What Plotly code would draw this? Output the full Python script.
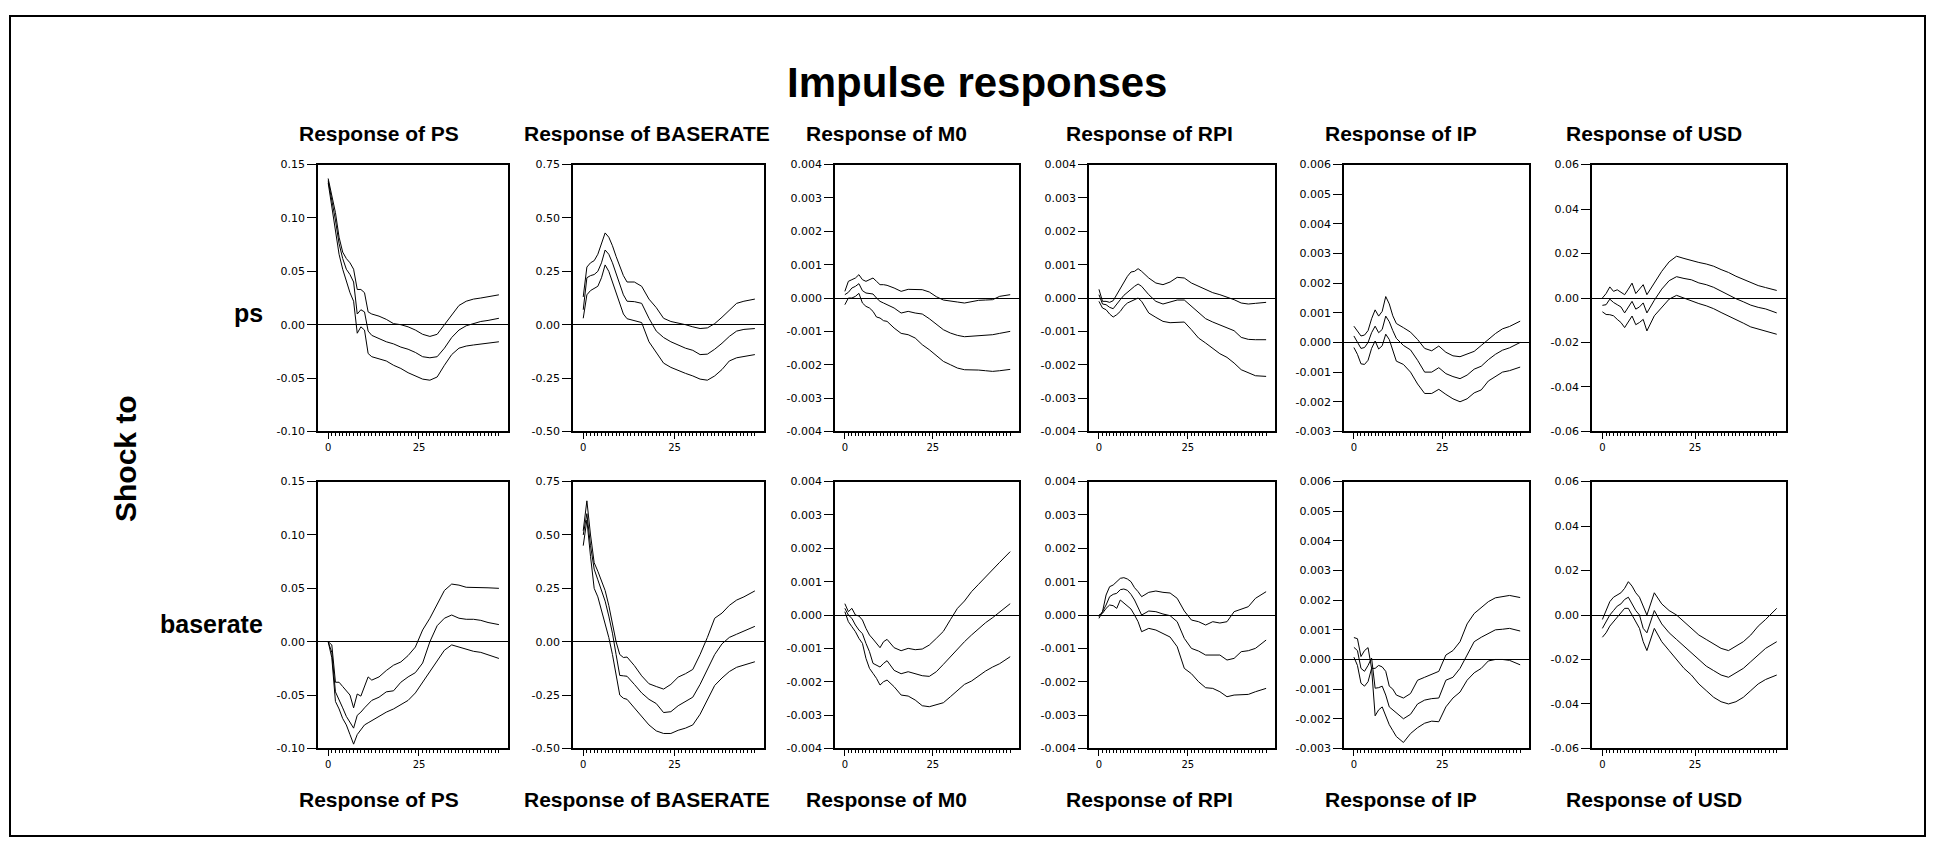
import plotly.graph_objects as go

# ---------------- data ----------------
H = [0, 1, 2, 3, 4, 5, 6, 7, 8, 9, 10, 11, 12, 14, 16, 18, 20, 22, 24, 26, 28, 30, 32, 34, 36, 38, 40, 42, 44, 47]

COLUMNS = ["PS", "BASERATE", "M0", "RPI", "IP", "USD"]
ROWS = ["ps", "baserate"]
TITLE = "Impulse responses"
SHOCK_LABEL = "Shock to"
X_TICKS = [0, 25]
X_MINOR = list(range(0, 48))

Y_TICKS_PS = [-0.10, -0.05, 0.00, 0.05, 0.10, 0.15]
Y_TICKS_BASERATE = [-0.50, -0.25, 0.00, 0.25, 0.50, 0.75]
Y_TICKS_M0 = [-0.004, -0.003, -0.002, -0.001, 0.000, 0.001, 0.002, 0.003, 0.004]
Y_TICKS_RPI = [-0.004, -0.003, -0.002, -0.001, 0.000, 0.001, 0.002, 0.003, 0.004]
Y_TICKS_IP = [-0.003, -0.002, -0.001, 0.000, 0.001, 0.002, 0.003, 0.004, 0.005, 0.006]
Y_TICKS_USD = [-0.06, -0.04, -0.02, 0.00, 0.02, 0.04, 0.06]
Y_DECIMALS = [2, 2, 3, 3, 3, 2]

# shock ps
ps_PS_hi = [0.137, 0.122, 0.105, 0.082, 0.068, 0.062, 0.058, 0.052, 0.033, 0.033, 0.030, 0.012, 0.010, 0.008, 0.005, 0.001, 0.000, -0.002, -0.005, -0.009, -0.011, -0.009, 0.000, 0.010, 0.018, 0.022, 0.024, 0.025, 0.026, 0.028]
ps_PS_mid = [0.135, 0.118, 0.098, 0.076, 0.062, 0.052, 0.047, 0.040, 0.010, 0.014, 0.012, -0.006, -0.010, -0.013, -0.016, -0.018, -0.021, -0.023, -0.026, -0.030, -0.031, -0.030, -0.022, -0.012, -0.005, -0.001, 0.001, 0.003, 0.004, 0.006]
ps_PS_lo = [0.133, 0.112, 0.090, 0.066, 0.052, 0.040, 0.030, 0.022, -0.008, -0.002, -0.005, -0.027, -0.030, -0.032, -0.034, -0.038, -0.041, -0.045, -0.048, -0.051, -0.052, -0.049, -0.038, -0.028, -0.022, -0.020, -0.019, -0.018, -0.017, -0.016]

ps_BASERATE_hi = [0.13, 0.27, 0.29, 0.30, 0.33, 0.38, 0.43, 0.41, 0.37, 0.32, 0.27, 0.23, 0.20, 0.20, 0.18, 0.12, 0.08, 0.03, 0.015, 0.008, 0.0, -0.01, -0.018, -0.015, 0.005, 0.035, 0.07, 0.10, 0.11, 0.12]
ps_BASERATE_mid = [0.07, 0.22, 0.23, 0.235, 0.25, 0.29, 0.35, 0.33, 0.29, 0.24, 0.19, 0.14, 0.11, 0.108, 0.10, 0.03, -0.03, -0.06, -0.08, -0.095, -0.11, -0.12, -0.14, -0.138, -0.115, -0.087, -0.055, -0.03, -0.022, -0.018]
ps_BASERATE_lo = [0.03, 0.14, 0.16, 0.17, 0.18, 0.22, 0.28, 0.25, 0.20, 0.14, 0.09, 0.05, 0.028, 0.02, 0.01, -0.08, -0.13, -0.18, -0.20, -0.215, -0.228, -0.24, -0.255, -0.26, -0.24, -0.21, -0.17, -0.155, -0.15, -0.14]

ps_M0_hi = [0.0002, 0.0005, 0.00055, 0.0006, 0.0007, 0.00055, 0.0005, 0.00056, 0.0006, 0.0005, 0.0004, 0.0004, 0.00038, 0.0003, 0.0002, 0.00026, 0.00026, 0.00025, 0.00018, 0.00004, -0.00006, -0.0001, -0.00012, -0.00015, -0.0001, -0.00007, -0.00006, -0.00005, 0.00005, 0.0001]
ps_M0_mid = [0.0001, 0.00017, 0.0003, 0.00035, 0.00043, 0.00022, 0.00015, 0.00014, 0.00012, 0.0, -0.0001, -0.00015, -0.0002, -0.0003, -0.00045, -0.0004, -0.00045, -0.00048, -0.00062, -0.00078, -0.00095, -0.00105, -0.00112, -0.00116, -0.00115, -0.00114, -0.00112, -0.0011, -0.00106, -0.001]
ps_M0_lo = [-0.0002, 0.0, 0.0, 0.00005, 0.00014, -0.00015, -0.00025, -0.0003, -0.0004, -0.00057, -0.0006, -0.00068, -0.0007, -0.0009, -0.00106, -0.0011, -0.0012, -0.0014, -0.00155, -0.00172, -0.0019, -0.002, -0.0021, -0.00215, -0.00215, -0.00216, -0.00218, -0.0022, -0.00218, -0.00214]

ps_RPI_hi = [0.00026, -0.0001, -0.0001, -0.00013, -0.00008, 0.0001, 0.0003, 0.00045, 0.00065, 0.00078, 0.0008, 0.00088, 0.0008, 0.0006, 0.00045, 0.0004, 0.00048, 0.00062, 0.0006, 0.00045, 0.00035, 0.00024, 0.00016, 0.0001, 0.00003, -0.00005, -0.00015, -0.00018, -0.00016, -0.00013]
ps_RPI_mid = [0.0001, -0.00018, -0.0002, -0.00028, -0.00032, -0.0002, -0.00005, 0.00008, 0.00018, 0.00025, 0.00035, 0.00042, 0.00035, 0.0001, -0.0001, -0.00018, -0.00012, -0.00006, -0.00006, -0.00025, -0.00046, -0.00062, -0.00072, -0.0008, -0.00088, -0.00098, -0.00118, -0.00124, -0.00125, -0.00125]
ps_RPI_lo = [-0.0001, -0.0003, -0.00035, -0.00048, -0.00057, -0.0005, -0.0004, -0.00025, -0.00015, -0.0001, -0.00006, 0.0, -0.0001, -0.00045, -0.00058, -0.0007, -0.00074, -0.00072, -0.00072, -0.00095, -0.0012, -0.00135, -0.0015, -0.00167, -0.00178, -0.00195, -0.00215, -0.00224, -0.00233, -0.00235]

ps_IP_hi = [0.00055, 0.0004, 0.00022, 0.00025, 0.0004, 0.0008, 0.0011, 0.00089, 0.00105, 0.00155, 0.0013, 0.0009, 0.00064, 0.0005, 0.00035, 0.0001, -0.0002, -0.00028, -0.00012, -0.00033, -0.00045, -0.00048, -0.00038, -0.0003, -0.0001, 0.0001, 0.0003, 0.00046, 0.00054, 0.00072]
ps_IP_mid = [0.00022, 0.0, -0.0002, -0.00017, 0.0, 0.00033, 0.00055, 0.00033, 0.00044, 0.00089, 0.0007, 0.0004, 0.00014, -0.0001, -0.00025, -0.0006, -0.001, -0.001, -0.00085, -0.00105, -0.00115, -0.00122, -0.0011, -0.0009, -0.0008, -0.00058, -0.0004, -0.00026, -0.00018, 0.0]
ps_IP_lo = [-0.00017, -0.0004, -0.00072, -0.00074, -0.0006, -0.0002, 0.00005, -0.00022, -0.00011, 0.00028, 0.0001, -0.0003, -0.00063, -0.00074, -0.001, -0.0014, -0.00172, -0.00172, -0.00158, -0.00175, -0.0019, -0.002, -0.0019, -0.0017, -0.0016, -0.0013, -0.00115, -0.001, -0.00095, -0.00083]

ps_USD_hi = [0.0, 0.002, 0.005, 0.003, 0.0037, 0.0025, 0.0015, 0.004, 0.0067, 0.002, 0.004, 0.006, 0.0015, 0.007, 0.012, 0.0163, 0.0188, 0.0178, 0.0168, 0.016, 0.0153, 0.0143, 0.0128, 0.0115, 0.0098, 0.0083, 0.007, 0.0056, 0.0047, 0.0034]
ps_USD_mid = [-0.0033, -0.003, -0.0005, -0.002, -0.003, -0.004, -0.0067, -0.004, -0.0015, -0.005, -0.004, -0.0022, -0.0067, -0.001, 0.004, 0.0078, 0.0096, 0.0088, 0.0082, 0.0068, 0.006, 0.0048, 0.003, 0.0013, -0.0003, -0.0017, -0.0032, -0.0042, -0.0049, -0.0067]
ps_USD_lo = [-0.0062, -0.0074, -0.0075, -0.008, -0.0096, -0.011, -0.0133, -0.0105, -0.0081, -0.012, -0.011, -0.0096, -0.0148, -0.008, -0.004, -0.0005, 0.0012, 0.0, -0.0015, -0.0025, -0.0035, -0.0048, -0.0065, -0.008, -0.0098, -0.0113, -0.013, -0.014, -0.0148, -0.0163]

# shock baserate
br_PS_hi = [0.0, -0.003, -0.038, -0.038, -0.042, -0.046, -0.05, -0.062, -0.049, -0.051, -0.042, -0.033, -0.036, -0.033, -0.027, -0.022, -0.019, -0.013, -0.005, 0.011, 0.022, 0.035, 0.048, 0.054, 0.053, 0.051, 0.051, 0.051, 0.0505, 0.05]
br_PS_mid = [0.0, -0.01, -0.047, -0.054, -0.062, -0.07, -0.075, -0.081, -0.069, -0.066, -0.062, -0.058, -0.055, -0.052, -0.047, -0.046, -0.038, -0.033, -0.029, -0.02, 0.0, 0.015, 0.022, 0.025, 0.022, 0.021, 0.021, 0.02, 0.018, 0.016]
br_PS_lo = [0.0, -0.015, -0.056, -0.063, -0.072, -0.078, -0.087, -0.096, -0.087, -0.082, -0.078, -0.076, -0.074, -0.07, -0.066, -0.063, -0.059, -0.055, -0.048, -0.038, -0.028, -0.018, -0.008, -0.003, -0.005, -0.007, -0.009, -0.01, -0.012, -0.0157]

br_BASERATE_hi = [0.52, 0.66, 0.5, 0.37, 0.33, 0.28, 0.24, 0.17, 0.09, 0.0, -0.06, -0.074, -0.072, -0.112, -0.16, -0.197, -0.21, -0.222, -0.2, -0.166, -0.15, -0.13, -0.06, 0.02, 0.11, 0.134, 0.17, 0.195, 0.21, 0.238]
br_BASERATE_mid = [0.5, 0.6, 0.45, 0.34, 0.29, 0.24, 0.19, 0.12, 0.04, -0.06, -0.158, -0.16, -0.162, -0.2, -0.24, -0.27, -0.29, -0.332, -0.328, -0.3, -0.28, -0.26, -0.2, -0.13, -0.06, -0.01, 0.02, 0.035, 0.05, 0.072]
br_BASERATE_lo = [0.45, 0.57, 0.4, 0.25, 0.21, 0.15, 0.09, 0.02, -0.06, -0.16, -0.25, -0.265, -0.27, -0.31, -0.35, -0.39, -0.418, -0.43, -0.43, -0.415, -0.405, -0.39, -0.34, -0.27, -0.205, -0.17, -0.14, -0.12, -0.11, -0.094]

br_M0_hi = [0.00034, 0.0001, 0.0002, 0.0, -0.00003, -0.00015, -0.0004, -0.0006, -0.00072, -0.00085, -0.00098, -0.0008, -0.00073, -0.00098, -0.00107, -0.001, -0.00104, -0.00102, -0.0009, -0.0007, -0.00049, -0.00014, 0.0002, 0.00042, 0.0007, 0.00092, 0.00113, 0.00134, 0.00158, 0.0019]
br_M0_mid = [0.0002, 0.0, -0.0001, -0.0003, -0.00045, -0.00056, -0.00085, -0.0011, -0.00145, -0.0015, -0.00156, -0.00145, -0.00137, -0.00166, -0.00176, -0.0017, -0.00176, -0.00182, -0.00184, -0.0017, -0.00148, -0.00125, -0.001, -0.0008, -0.0006, -0.0004, -0.00023, -0.00008, 0.00008, 0.00034]
br_M0_lo = [0.0001, -0.0002, -0.00035, -0.0005, -0.0007, -0.00085, -0.0013, -0.0016, -0.00175, -0.0019, -0.0021, -0.002, -0.00195, -0.00215, -0.0024, -0.00243, -0.00255, -0.00272, -0.00275, -0.00268, -0.00263, -0.00245, -0.00225, -0.00208, -0.00198, -0.00182, -0.00168, -0.00156, -0.00146, -0.00125]

br_RPI_hi = [-0.0001, 0.0001, 0.0006, 0.00085, 0.0009, 0.001, 0.0011, 0.00112, 0.00108, 0.001, 0.00082, 0.0007, 0.00055, 0.00068, 0.00072, 0.00068, 0.00066, 0.0005, 0.00012, -0.00015, -0.0002, -0.0003, -0.0002, -0.00024, -0.0002, 0.0001, 0.00018, 0.00025, 0.0005, 0.0007]
br_RPI_mid = [-0.00005, 0.0001, 0.0003, 0.00055, 0.00062, 0.00065, 0.00076, 0.00078, 0.00074, 0.00062, 0.00045, 0.0002, 0.0, 0.00012, 0.0001, 0.00003, -0.00002, -0.0002, -0.0007, -0.001, -0.00108, -0.0012, -0.0012, -0.0012, -0.00135, -0.0013, -0.0011, -0.00107, -0.001, -0.00075]
br_RPI_lo = [0.0, 0.00005, 0.0002, 0.0003, 0.00028, 0.0002, 0.00045, 0.00035, 0.00025, 0.00018, 0.0, -0.0002, -0.0005, -0.0004, -0.00045, -0.00055, -0.00066, -0.00095, -0.0016, -0.00176, -0.002, -0.00218, -0.0022, -0.0023, -0.00245, -0.0024, -0.00238, -0.00238, -0.0023, -0.0022]

br_IP_hi = [0.00074, 0.0007, 0.0001, 0.0003, 0.0004, -0.0003, -0.0003, -0.0002, -0.00025, -0.0004, -0.0009, -0.001, -0.0012, -0.0013, -0.00115, -0.0007, -0.0006, -0.0005, -0.0004, 0.00015, 0.0003, 0.0006, 0.0012, 0.00155, 0.00175, 0.00195, 0.00208, 0.00213, 0.00216, 0.00209]
br_IP_mid = [0.00041, 0.0003, -0.0003, -0.0004, -0.0002, 0.00005, -0.00097, -0.00095, -0.0009, -0.0012, -0.0016, -0.0017, -0.0018, -0.002, -0.00185, -0.0015, -0.00137, -0.00132, -0.0013, -0.0007, -0.0006, -0.0003, 0.00015, 0.0006, 0.00075, 0.00088, 0.001, 0.00102, 0.00105, 0.00096]
br_IP_lo = [0.00008, -0.0002, -0.0008, -0.0009, -0.00075, -0.0003, -0.0019, -0.0017, -0.0016, -0.0019, -0.0022, -0.0024, -0.0026, -0.0028, -0.0025, -0.0023, -0.00215, -0.00208, -0.0021, -0.0016, -0.0013, -0.0011, -0.0007, -0.00045, -0.0003, -0.00005, 0.0, 0.0, -0.00003, -0.00018]

br_USD_hi = [-0.002, 0.002, 0.006, 0.008, 0.009, 0.010, 0.012, 0.015, 0.013, 0.010, 0.008, 0.004, 0.0, 0.010, 0.005, 0.002, 0.0, -0.003, -0.006, -0.009, -0.011, -0.013, -0.015, -0.016, -0.014, -0.012, -0.009, -0.005, -0.002, 0.003]
br_USD_mid = [-0.006, -0.003, 0.0, 0.002, 0.004, 0.005, 0.007, 0.008, 0.005, 0.002, 0.0, -0.006, -0.008, 0.002, -0.004, -0.008, -0.011, -0.014, -0.017, -0.02, -0.023, -0.025, -0.027, -0.028, -0.026, -0.024, -0.021, -0.018, -0.015, -0.012]
br_USD_lo = [-0.01, -0.008, -0.005, -0.003, -0.001, 0.001, 0.003, 0.003, 0.0, -0.003, -0.006, -0.012, -0.016, -0.006, -0.012, -0.016, -0.02, -0.024, -0.027, -0.031, -0.034, -0.037, -0.039, -0.04, -0.039, -0.037, -0.034, -0.031, -0.029, -0.027]

SERIES = [
    [(ps_PS_hi, ps_PS_mid, ps_PS_lo), (ps_BASERATE_hi, ps_BASERATE_mid, ps_BASERATE_lo),
     (ps_M0_hi, ps_M0_mid, ps_M0_lo), (ps_RPI_hi, ps_RPI_mid, ps_RPI_lo),
     (ps_IP_hi, ps_IP_mid, ps_IP_lo), (ps_USD_hi, ps_USD_mid, ps_USD_lo)],
    [(br_PS_hi, br_PS_mid, br_PS_lo), (br_BASERATE_hi, br_BASERATE_mid, br_BASERATE_lo),
     (br_M0_hi, br_M0_mid, br_M0_lo), (br_RPI_hi, br_RPI_mid, br_RPI_lo),
     (br_IP_hi, br_IP_mid, br_IP_lo), (br_USD_hi, br_USD_mid, br_USD_lo)],
]
Y_TICKS = [Y_TICKS_PS, Y_TICKS_BASERATE, Y_TICKS_M0, Y_TICKS_RPI, Y_TICKS_IP, Y_TICKS_USD]

# ---------------- layout geometry (screen pixels of the page) ----------------
PAGE_MARGIN = 8                      # default <body> margin of the html page
W, HT = 1935 - 2 * PAGE_MARGIN, 853 - 2 * PAGE_MARGIN
PANEL_X = [(318, 508), (573, 764), (835, 1019), (1089, 1275), (1344, 1529), (1592, 1786)]
ROW_Y = [(161, 432), (483, 754)]
X_RANGE = [-2.8, 49.5]
FONT = "Liberation Sans, Arial, sans-serif"
TICK_FONT = "DejaVu Sans, sans-serif"


def px(x):
    return (x - PAGE_MARGIN) / W


def py(y):
    return 1 - (y - PAGE_MARGIN) / HT


fig = go.Figure()
layout = {}
n = 0
for r in range(2):
    for c in range(6):
        n += 1
        suf = "" if n == 1 else str(n)
        for vals in SERIES[r][c]:
            fig.add_trace(go.Scatter(x=H, y=vals, mode="lines",
                                     line=dict(color="black", width=1),
                                     xaxis="x" + suf, yaxis="y" + suf,
                                     showlegend=False, hoverinfo="skip"))
        ticks = Y_TICKS[c]
        labels = [f"{v:.{Y_DECIMALS[c]}f}" for v in ticks]
        x0, x1 = PANEL_X[c]
        y0, y1 = ROW_Y[r]
        layout["xaxis" + suf] = dict(
            domain=[px(x0), px(x1)], anchor="y" + suf, range=X_RANGE,
            showline=True, mirror=True, linecolor="black", linewidth=1.5,
            showgrid=False, zeroline=False,
            tickmode="array", tickvals=X_TICKS, ticktext=[str(t) for t in X_TICKS],
            ticks="outside", ticklen=6, tickwidth=1, tickcolor="black",
            minor=dict(tickmode="array", tickvals=X_MINOR, ticks="outside", ticklen=3,
                       tickwidth=1, tickcolor="black", showgrid=False),
            tickfont=dict(family=TICK_FONT, size=10, color="black"),
            fixedrange=True)
        layout["yaxis" + suf] = dict(
            domain=[py(y1), py(y0)], anchor="x" + suf, range=[ticks[0], ticks[-1]],
            showline=True, mirror=True, linecolor="black", linewidth=1.5,
            showgrid=False, zeroline=True, zerolinecolor="black", zerolinewidth=1.2,
            tickmode="array", tickvals=ticks, ticktext=labels,
            ticks="outside", ticklen=9, tickwidth=1, tickcolor="black",
            tickfont=dict(family=TICK_FONT, size=11, color="black"),
            fixedrange=True)

fig.update_layout(**layout)

annotations = []
annotations.append(dict(text=f"<b>{TITLE}</b>", x=px(977), y=py(78), xref="paper", yref="paper",
                        showarrow=False, font=dict(family=FONT, size=42, color="black"),
                        xanchor="center", yanchor="middle"))
TITLE_CX = [379, 647, 886, 1149, 1401, 1654]
for c, name in enumerate(COLUMNS):
    for yy in (129, 806):
        annotations.append(dict(text=f"<b>Response of {name}</b>", x=px(TITLE_CX[c]), y=py(yy),
                                xref="paper", yref="paper", showarrow=False,
                                font=dict(family=FONT, size=21, color="black"),
                                xanchor="center", yanchor="middle"))
for r, lab in enumerate(ROWS):
    annotations.append(dict(text=f"<b>{lab}</b>", x=px(265), y=py([312, 628][r]),
                            xref="paper", yref="paper", showarrow=False,
                            font=dict(family=FONT, size=25, color="black"),
                            xanchor="right", yanchor="middle"))
annotations.append(dict(text=f"<b>{SHOCK_LABEL}</b>", x=px(126), y=py(460), xref="paper", yref="paper",
                        showarrow=False, textangle=-90,
                        font=dict(family=FONT, size=30, color="black"),
                        xanchor="center", yanchor="middle"))

fig.update_layout(
    width=W, height=HT,
    margin=dict(l=0, r=0, t=0, b=0, pad=0),
    paper_bgcolor="white", plot_bgcolor="white",
    showlegend=False,
    annotations=annotations,
    shapes=[dict(type="rect", xref="paper", yref="paper",
                 x0=px(10), x1=px(1925), y0=py(843), y1=py(10),
                 line=dict(color="black", width=2), fillcolor="rgba(0,0,0,0)")],
)

fig.write_html("out.html", config={"displayModeBar": False})
